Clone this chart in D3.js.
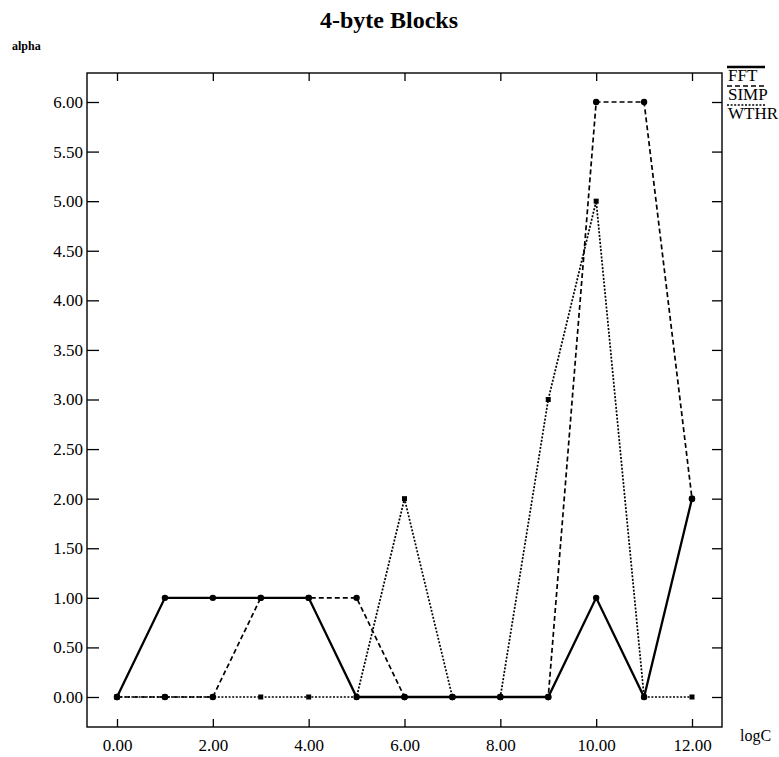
<!DOCTYPE html>
<html>
<head>
<meta charset="utf-8">
<script src="https://cdn.jsdelivr.net/npm/d3@7"></script>
<style>
  body { margin: 0; background: #fff; }
  text { font-family: "Liberation Serif", "DejaVu Serif", serif; fill: #000; }
</style>
</head>
<body>
<script>
// data
const logC = [0, 1, 2, 3, 4, 5, 6, 7, 8, 9, 10, 11, 12];
const fft  = [0, 1, 1, 1, 1, 0, 0, 0, 0, 0, 1, 0, 2];
const simp = [0, 0, 0, 1, 1, 1, 0, 0, 0, 0, 6, 6, 2];
const wthr = [0, 0, 0, 0, 0, 0, 2, 0, 0, 3, 5, 0, 0];
const seriesNames = ["FFT", "SIMP", "WTHR"];
const xTicks = [0, 2, 4, 6, 8, 10, 12];
const yTicks = [0, 0.5, 1, 1.5, 2, 2.5, 3, 3.5, 4, 4.5, 5, 5.5, 6];

(() => {
    const width = 779, height = 757;
    const frame = {left: 87, top: 73, right: 722, bottom: 727};

    const svg = d3.select("body").append("svg")
        .attr("width", width)
        .attr("height", height);

    const x = d3.scaleLinear().domain([0, 12]).range([117, 692]);
    const y = d3.scaleLinear().domain([0, 6]).range([697, 102]);

    // frame
    svg.append("rect")
        .attr("x", frame.left).attr("y", frame.top)
        .attr("width", frame.right - frame.left)
        .attr("height", frame.bottom - frame.top)
        .attr("fill", "none").attr("stroke", "#000").attr("stroke-width", 1.4);

    // left axis, ticks inward
    const yAxis = svg.append("g")
        .attr("transform", `translate(${frame.left},0)`)
        .call(d3.axisRight(y).tickValues(yTicks).tickSize(12).tickFormat(d3.format(".2f")));
    yAxis.select(".domain").remove();
    yAxis.selectAll("text")
        .attr("x", -4).attr("text-anchor", "end")
        .style("font-size", "17px");

    // right ticks
    const yRight = svg.append("g")
        .attr("transform", `translate(${frame.right},0)`)
        .call(d3.axisLeft(y).tickValues(yTicks).tickSize(10).tickFormat(""));
    yRight.select(".domain").remove();

    // bottom axis, ticks inward
    const xAxis = svg.append("g")
        .attr("transform", `translate(0,${frame.bottom})`)
        .call(d3.axisTop(x).tickValues(xTicks).tickSize(8).tickFormat(d3.format(".2f")));
    xAxis.select(".domain").remove();
    xAxis.selectAll("text")
        .attr("y", 24).style("font-size", "17px");

    // top ticks
    const xTop = svg.append("g")
        .attr("transform", `translate(0,${frame.top})`)
        .call(d3.axisBottom(x).tickValues(xTicks).tickSize(8).tickFormat(""));
    xTop.select(".domain").remove();

    svg.selectAll(".tick line").attr("stroke", "#000").attr("stroke-width", 1.3);

    // titles
    svg.append("text")
        .attr("x", 389).attr("y", 28)
        .attr("text-anchor", "middle")
        .style("font-size", "24px").style("font-weight", "bold")
        .text("4-byte Blocks");
    svg.append("text")
        .attr("x", 12).attr("y", 50)
        .style("font-size", "12px").style("font-weight", "bold")
        .text("alpha");
    svg.append("text")
        .attr("x", 740).attr("y", 741)
        .style("font-size", "16px")
        .text("logC");

    // series
    const styles = [
        {vals: fft,  width: 2.3, dash: null,  marker: "circle"},
        {vals: simp, width: 1.7, dash: "5,3", marker: "circle"},
        {vals: wthr, width: 1.7, dash: "2,1.6", marker: "square"}
    ];

    const line = d3.line()
        .x((d, i) => x(logC[i]))
        .y(d => y(d));

    styles.forEach(s => {
        svg.append("path")
            .datum(s.vals)
            .attr("d", line)
            .attr("fill", "none")
            .attr("stroke", "#000")
            .attr("stroke-width", s.width)
            .attr("stroke-dasharray", s.dash);

        if (s.marker == "circle") {
            svg.selectAll(null)
                .data(s.vals)
                .enter()
                .append("circle")
                .attr("cx", (d, i) => x(logC[i]))
                .attr("cy", d => y(d))
                .attr("r", 3.2)
                .attr("fill", "#000");
        } else {
            svg.selectAll(null)
                .data(s.vals)
                .enter()
                .append("rect")
                .attr("x", (d, i) => x(logC[i]) - 2.5)
                .attr("y", d => y(d) - 2.5)
                .attr("width", 5).attr("height", 5)
                .attr("fill", "#000");
        }
    });

    // legend
    const legend = svg.append("g").attr("transform", "translate(727,0)");
    seriesNames.forEach((name, i) => {
        const ly = 67 + i * 19;
        legend.append("line")
            .attr("x1", 0).attr("x2", 38)
            .attr("y1", ly).attr("y2", ly)
            .attr("stroke", "#000")
            .attr("stroke-width", styles[i].width)
            .attr("stroke-dasharray", styles[i].dash);
        legend.append("text")
            .attr("x", 1).attr("y", ly + 14)
            .style("font-size", "17px")
            .text(name);
    });
})();
</script>
</body>
</html>
